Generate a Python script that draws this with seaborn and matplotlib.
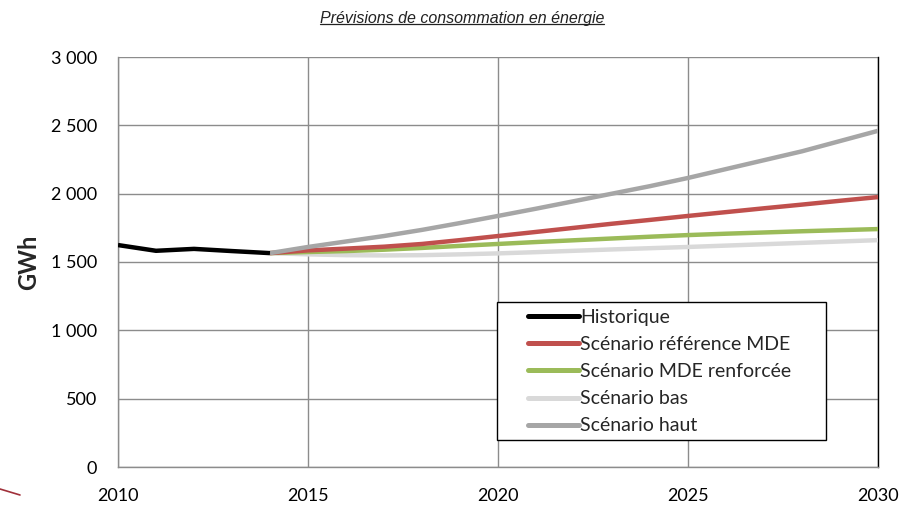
import matplotlib
matplotlib.use("Agg")
import matplotlib.pyplot as plt
from matplotlib.lines import Line2D
from matplotlib.patches import Rectangle
from matplotlib.ticker import FuncFormatter, MultipleLocator
import seaborn as sns
import pandas as pd

years_hist = [2010, 2011, 2012, 2013, 2014]
historique = [1624, 1582, 1596, 1580, 1565]

years_scen = list(range(2014, 2031))
ref_mde = [1565, 1585, 1598, 1612, 1632, 1660, 1690, 1720, 1750, 1780, 1808, 1837, 1865, 1893, 1920, 1948, 1975]
mde_renf = [1565, 1573, 1580, 1590, 1603, 1618, 1632, 1646, 1659, 1672, 1685, 1697, 1707, 1716, 1725, 1733, 1741]
bas = [1565, 1556, 1550, 1548, 1550, 1556, 1563, 1572, 1582, 1592, 1601, 1610, 1620, 1630, 1640, 1650, 1660]
haut = [1565, 1610, 1650, 1690, 1735, 1785, 1837, 1890, 1945, 2000, 2055, 2115, 2180, 2245, 2310, 2385, 2460]

names = ["Historique", "Scénario référence MDE", "Scénario MDE renforcée", "Scénario bas", "Scénario haut"]
colors = ["#000000", "#C0504D", "#9BBB59", "#D9D9D9", "#A6A6A6"]
title = "Prévisions de consommation en énergie"
ylabel = "GWh"

rows = []
for y, v in zip(years_hist, historique):
    rows.append((y, v, names[0]))
for series, name in zip([ref_mde, mde_renf, bas, haut], names[1:]):
    for y, v in zip(years_scen, series):
        rows.append((y, v, name))
df = pd.DataFrame(rows, columns=["year", "value", "series"])

sns.set_style("white")
plt.rcParams["font.family"] = ["Lato", "DejaVu Sans"]

W, H = 900, 509
fig = plt.figure(figsize=(9, 5.09), dpi=100)
ax = fig.add_axes([118 / W, 1 - 467 / H, 760 / W, 410 / H])

draw_order = [names[3], names[2], names[1], names[4], names[0]]
pal = dict(zip(names, colors))
for i, n in enumerate(draw_order):
    sub = df[df.series == n]
    sns.lineplot(data=sub, x="year", y="value", color=pal[n], lw=3.2, ax=ax,
                 legend=False, zorder=3 + i, solid_capstyle="butt", solid_joinstyle="round")

ax.set_xlim(2010, 2030)
ax.set_ylim(0, 3000)
ax.xaxis.set_major_locator(MultipleLocator(5))
ax.yaxis.set_major_locator(MultipleLocator(500))
ax.yaxis.set_major_formatter(FuncFormatter(lambda v, p: f"{int(v):,}".replace(",", " ")))
ax.grid(True, color="#8C8C8C", lw=1.0)
ax.set_axisbelow(True)
for s in ["top", "left", "bottom"]:
    ax.spines[s].set_color("#8C8C8C")
    ax.spines[s].set_linewidth(1.0)
ax.spines["top"].set_visible(False)
ax.spines["right"].set_color("black")
ax.spines["right"].set_linewidth(1.0)
ax.tick_params(axis="both", which="both", direction="out", length=5, width=1,
               color="#8C8C8C", labelsize=13, labelcolor="black")
ax.tick_params(axis="y", pad=10)
ax.tick_params(axis="x", pad=10)
ax.set_xlabel("")
ax.set_ylabel(ylabel, fontsize=17, fontweight="bold")
ax.yaxis.set_label_coords((40 - 118) / 760, (467 - 262) / 410)

# legend box
bx0, by0, bx1, by1 = 497, 302, 826, 440
ax.add_artist(Rectangle((bx0 / W, 1 - by1 / H), (bx1 - bx0) / W, (by1 - by0) / H,
                        transform=fig.transFigure, facecolor="white", edgecolor="black",
                        lw=1.0, zorder=19))
handles = [Line2D([0], [0], color=c, lw=3.6) for c in colors]
leg = ax.legend(handles, names, loc="upper left", bbox_to_anchor=(528 / W, 1 - 309 / H),
                bbox_transform=fig.transFigure,
                frameon=False, fontsize=14, handlelength=2.6, handletextpad=0.1,
                labelspacing=0.52, borderpad=0, borderaxespad=0)
leg.set_zorder(20)

t = fig.text(462 / W, 1 - 18 / H, title, ha="center", va="center",
             fontsize=11.5, style="italic", family=["Liberation Sans", "DejaVu Sans"], color="#222222")
fig.canvas.draw()
bb = t.get_window_extent(renderer=fig.canvas.get_renderer())
inv = fig.transFigure.inverted()
(x0, y0), (x1, y1) = inv.transform([(bb.x0, bb.y0), (bb.x1, bb.y0)])
fig.add_artist(Line2D([x0, x1], [y0 + 0.003, y0 + 0.003], transform=fig.transFigure, color="#222222", lw=0.9))

fig.add_artist(Line2D([0, 20 / W], [1 - 489 / H, 1 - 495 / H], transform=fig.transFigure,
                      color="#A0303A", lw=1.2))

fig.savefig("out.png", dpi=100)
